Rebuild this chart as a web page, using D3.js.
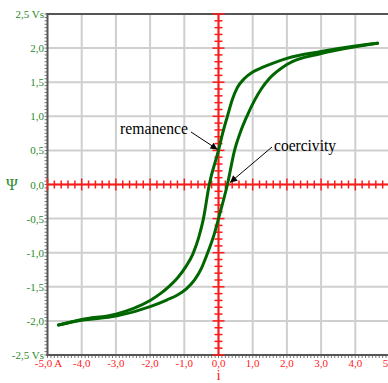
<!DOCTYPE html>
<html><head><meta charset="utf-8">
<script src="https://cdn.jsdelivr.net/npm/d3@7"></script>
<style>html,body{margin:0;padding:0;background:#fff;overflow:hidden} text{font-family:'Liberation Serif','Times New Roman',Tinos,'Nimbus Roman','DejaVu Serif',serif}</style>
</head><body>
<svg id="c" width="388" height="383"></svg>
<script>
// Data
const xTicks = [-5,-4,-3,-2,-1,0,1,2,3,4,5];
const xTickLabels = ["-5,0 A","-4,0","-3,0","-2,0","-1,0","0,0","1,0","2,0","3,0","4,0","5,0"];
const yTicks = [2.5,2,1.5,1,0.5,0,-0.5,-1,-1.5,-2,-2.5];
const yTickLabels = ["2,5 Vs","2,0","1,5","1,0","0,5","0,0","-0,5","-1,0","-1,5","-2,0","-2,5 Vs"];
// descending (upper) branch
const upperX = [4.65, 4.0, 3.0, 2.0, 1.6, 1.3, 1.0, 0.75, 0.55, 0.4, 0.26, 0.12, 0.0, -0.27, -0.44, -0.58, -0.75, -0.95, -1.2, -1.46, -1.7, -2.0, -2.5, -3.0, -4.0, -4.68];
const upperY = [2.07, 2.03, 1.95, 1.85, 1.78, 1.72, 1.65, 1.55, 1.42, 1.24, 1.0, 0.75, 0.5, 0.0, -0.5, -0.78, -1.02, -1.2, -1.37, -1.5, -1.6, -1.7, -1.82, -1.9, -1.98, -2.06];
// ascending (lower) branch
const lowerX = [-4.68, -4.0, -3.0, -2.0, -1.5, -1.2, -0.94, -0.7, -0.5, -0.3, -0.12, 0.0, 0.26, 0.47, 0.65, 0.83, 1.05, 1.25, 1.5, 2.0, 3.0, 4.0, 4.65];
const lowerY = [-2.06, -1.99, -1.93, -1.79, -1.69, -1.62, -1.53, -1.4, -1.23, -0.98, -0.72, -0.5, 0.0, 0.5, 0.78, 1.0, 1.23, 1.4, 1.56, 1.76, 1.92, 2.02, 2.07];
const annotations = [
  {text:"remanence", tx:120, ty:134, w:68, ax:0.0, ay:0.5},
  {text:"coercivity", tx:274, ty:151, w:62, ax:0.28, ay:0.0}
];

const svg = d3.select("#c");
const x = d3.scaleLinear().domain([-5,5]).range([47.5,389.5]);
const y = d3.scaleLinear().domain([-2.5,2.5]).range([355,14]);

// grid
const g = svg.append("g");
g.selectAll("line.gx").data(xTicks.slice(1)).enter().append("line")
  .attr("x1",d=>x(d)).attr("x2",d=>x(d)).attr("y1",y(2.5)).attr("y2",y(-2.5))
  .attr("stroke","#cfcfcf").attr("stroke-width",2);
g.selectAll("line.gy").data(yTicks.slice(0,-1)).enter().append("line")
  .attr("y1",d=>y(d)).attr("y2",d=>y(d)).attr("x1",x(-5)).attr("x2",x(5))
  .attr("stroke","#cfcfcf").attr("stroke-width",2);

// frame axes with minor ticks
const yMinor = d3.range(-2.5, 2.5001, 0.05);
g.selectAll("line.ym").data(yMinor).enter().append("line")
  .attr("x1",x(-5)-3).attr("x2",x(-5)).attr("y1",d=>y(d)).attr("y2",d=>y(d))
  .attr("stroke","#777").attr("stroke-width",1);
const xMinor = d3.range(-5, 5.0001, 0.1);
g.selectAll("line.xm").data(xMinor).enter().append("line")
  .attr("y1",y(-2.5)).attr("y2",y(-2.5)+3).attr("x1",d=>x(d)).attr("x2",d=>x(d))
  .attr("stroke","#777").attr("stroke-width",1);
g.append("line").attr("x1",x(-5)).attr("x2",x(-5)).attr("y1",y(2.5)-1).attr("y2",y(-2.5)+1)
  .attr("stroke","#555").attr("stroke-width",2);
g.append("line").attr("x1",x(-5)-1).attr("x2",x(5)).attr("y1",y(-2.5)).attr("y2",y(-2.5))
  .attr("stroke","#555").attr("stroke-width",2);
g.append("line").attr("x1",x(-5)-1).attr("x2",x(5)).attr("y1",y(2.5)).attr("y2",y(2.5))
  .attr("stroke","#555").attr("stroke-width",2);

// red crosshair axes
const red = "#ff1a1a";
g.append("line").attr("x1",x(-5)).attr("x2",x(5)).attr("y1",y(0)).attr("y2",y(0))
  .attr("stroke",red).attr("stroke-width",2);
g.append("line").attr("x1",x(0)).attr("x2",x(0)).attr("y1",y(2.5)).attr("y2",y(-2.5))
  .attr("stroke",red).attr("stroke-width",2);
const xr = d3.range(-5, 5.0001, 0.2);
g.selectAll("line.xr").data(xr).enter().append("line")
  .attr("x1",d=>x(d)).attr("x2",d=>x(d))
  .attr("y1",d=>y(0)-(Math.abs(d-Math.round(d))<1e-6?6:4))
  .attr("y2",d=>y(0)+(Math.abs(d-Math.round(d))<1e-6?6:4))
  .attr("stroke",red).attr("stroke-width",1.5);
const yr = d3.range(-2.5, 2.5001, 0.1);
g.selectAll("line.yr").data(yr).enter().append("line")
  .attr("y1",d=>y(d)).attr("y2",d=>y(d))
  .attr("x1",d=>x(0)-(Math.abs(d*2-Math.round(d*2))<1e-6?6:4))
  .attr("x2",d=>x(0)+(Math.abs(d*2-Math.round(d*2))<1e-6?6:4))
  .attr("stroke",red).attr("stroke-width",1.5);

// tick labels
const green = "#2a8a2a";
svg.selectAll("text.yl").data(yTicks).enter().append("text")
  .attr("x",44).attr("y",d=>y(d)+4).attr("text-anchor","end")
  .attr("font-size",11).attr("fill",green)
  .text((d,i)=>yTickLabels[i]);
svg.selectAll("text.xl").data(xTicks).enter().append("text")
  .attr("x",d=>x(d)+(d===-5?1:0)).attr("y",367).attr("text-anchor","middle")
  .attr("font-size",11).attr("fill",red)
  .text((d,i)=>xTickLabels[i]);
svg.append("text").attr("x",12).attr("y",y(0)+5).attr("text-anchor","middle")
  .attr("font-size",16).attr("fill",green).text("Ψ");
svg.append("text").attr("x",x(0)).attr("y",380).attr("text-anchor","middle")
  .attr("font-size",15).attr("fill",red).text("i");

// curves
const line = d3.line().x(d=>x(d[0])).y(d=>y(d[1])).curve(d3.curveMonotoneX);
const up = upperX.map((v,i)=>[v,upperY[i]]).sort((a,b)=>a[0]-b[0]);
const lo = lowerX.map((v,i)=>[v,lowerY[i]]).sort((a,b)=>a[0]-b[0]);
svg.append("path").datum(up)
  .attr("d",line).attr("fill","none").attr("stroke","#006600").attr("stroke-width",3).attr("stroke-linecap","round");
svg.append("path").datum(lo)
  .attr("d",line).attr("fill","none").attr("stroke","#006600").attr("stroke-width",3).attr("stroke-linecap","round");

// annotations
svg.append("defs").append("marker").attr("id","arr").attr("viewBox","0 0 10 10")
  .attr("refX",10).attr("refY",5).attr("markerWidth",9).attr("markerHeight",7)
  .attr("markerUnits","userSpaceOnUse").attr("orient","auto")
  .append("path").attr("d","M0,0L10,5L0,10z").attr("fill","#000");
svg.selectAll("text.an").data(annotations).enter().append("text")
  .attr("x",d=>d.tx).attr("y",d=>d.ty)
  .attr("font-size",17).attr("fill","#000")
  .attr("textLength",d=>d.w).attr("lengthAdjust","spacingAndGlyphs")
  .text(d=>d.text);
svg.append("line").attr("x1",191).attr("y1",132).attr("x2",x(annotations[0].ax)-1).attr("y2",y(annotations[0].ay)-1)
  .attr("stroke","#000").attr("stroke-width",1).attr("marker-end","url(#arr)");
svg.append("line").attr("x1",272).attr("y1",147).attr("x2",x(annotations[1].ax)+2).attr("y2",y(annotations[1].ay)-2)
  .attr("stroke","#000").attr("stroke-width",1).attr("marker-end","url(#arr)");
</script>
</body></html>
